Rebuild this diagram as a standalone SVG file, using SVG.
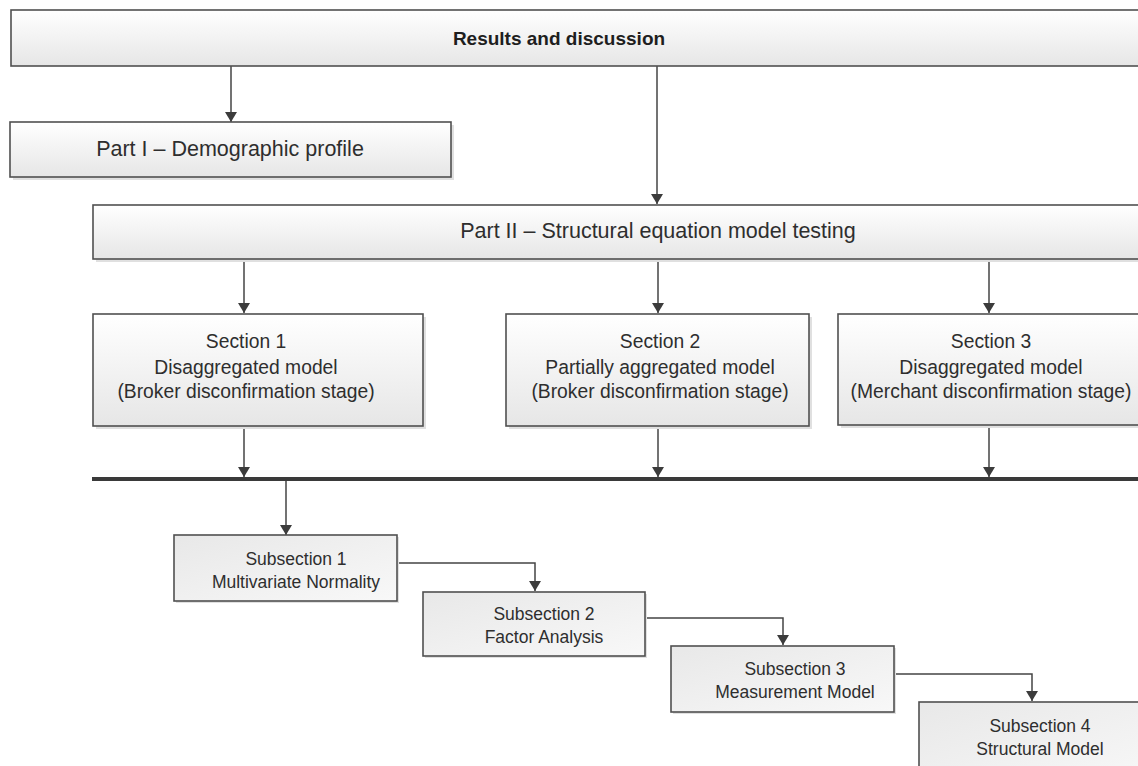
<svg xmlns="http://www.w3.org/2000/svg" width="1138" height="766" viewBox="0 0 1138 766">
  <defs>
    <linearGradient id="boxFill" x1="0" y1="0" x2="0" y2="1">
      <stop offset="0" stop-color="#ffffff"/>
      <stop offset="1" stop-color="#e6e6e6"/>
    </linearGradient>
    <linearGradient id="subFill" x1="0" y1="0" x2="1" y2="1">
      <stop offset="0" stop-color="#e8e8e8"/>
      <stop offset="1" stop-color="#f8f8f8"/>
    </linearGradient>
    <marker id="arrow" viewBox="0 0 10 12" refX="10" refY="6" markerWidth="10" markerHeight="12" markerUnits="userSpaceOnUse" orient="auto">
      <path d="M0,0 L10,6 L0,12 Z" fill="#3c3c3c"/>
    </marker>
  </defs>
  <style>
    .box { fill: url(#boxFill); stroke: #505050; stroke-width: 1.6; }
    .sub { fill: url(#subFill); stroke: #505050; stroke-width: 1.6; }
    .shadow { fill: #e0e0e0; }
    .t { font-family: "Liberation Sans", Arial, sans-serif; fill: #2e2e2e; text-anchor: middle; }
    .part { font-size: 21.5px; }
    .sec { font-size: 19.3px; }
    .small { font-size: 17.5px; }
    .bold { font-weight: bold; font-size: 19px; fill: #1e1e1e; }
    .link { fill: none; stroke: #444; stroke-width: 1.5; marker-end: url(#arrow); }
    .bar { stroke: #3a3a3a; stroke-width: 4; }
  </style>
  <rect width="1138" height="766" fill="#ffffff"/>

  <g id="connectors">
    <path class="link" d="M231,66 V122"/>
    <path class="link" d="M657,66 V204"/>
    <path class="link" d="M244,259 V313"/>
    <path class="link" d="M658,259 V313"/>
    <path class="link" d="M989,259 V313"/>
    <path class="link" d="M244,426 V477"/>
    <path class="link" d="M658,426 V477"/>
    <path class="link" d="M989,426 V477"/>
    <line class="bar" x1="92" y1="479" x2="1138" y2="479"/>
    <path class="link" d="M286,481 V535"/>
    <path class="link" d="M397,563 H535 V591"/>
    <path class="link" d="M645,618 H783 V645"/>
    <path class="link" d="M894,674 H1032 V701"/>
  </g>

  <g id="results">
    <rect class="box" x="11" y="10" width="1140" height="56"/>
    <text class="t bold" x="559" y="45">Results and discussion</text>
  </g>

  <g id="part1">
    <rect class="shadow" x="13" y="125" width="441" height="55"/>
    <rect class="box" x="10" y="122" width="441" height="55"/>
    <text class="t part" x="230" y="156">Part I – Demographic profile</text>
  </g>

  <g id="part2">
    <rect class="shadow" x="96" y="208" width="1060" height="54"/>
    <rect class="box" x="93" y="205" width="1060" height="54"/>
    <text class="t part" x="658" y="238">Part II – Structural equation model testing</text>
  </g>

  <g id="section1">
    <rect class="shadow" x="96" y="317" width="330" height="112"/>
    <rect class="box" x="93" y="314" width="330" height="112"/>
    <text class="t sec" x="246" y="348">Section 1</text>
    <text class="t sec" x="246" y="374">Disaggregated model</text>
    <text class="t sec" x="246" y="398">(Broker disconfirmation stage)</text>
  </g>

  <g id="section2">
    <rect class="shadow" x="509" y="317" width="303" height="112"/>
    <rect class="box" x="506" y="314" width="303" height="112"/>
    <text class="t sec" x="660" y="348">Section 2</text>
    <text class="t sec" x="660" y="374">Partially aggregated model</text>
    <text class="t sec" x="660" y="398">(Broker disconfirmation stage)</text>
  </g>

  <g id="section3">
    <rect class="shadow" x="841" y="317" width="310" height="111"/>
    <rect class="box" x="838" y="314" width="310" height="111"/>
    <text class="t sec" x="991" y="348">Section 3</text>
    <text class="t sec" x="991" y="374">Disaggregated model</text>
    <text class="t sec" x="991" y="398">(Merchant disconfirmation stage)</text>
  </g>

  <g id="subsection1">
    <rect class="shadow" x="176" y="537" width="223" height="66"/>
    <rect class="sub" x="174" y="535" width="223" height="66"/>
    <text class="t small" x="296" y="565">Subsection 1</text>
    <text class="t small" x="296" y="588">Multivariate Normality</text>
  </g>

  <g id="subsection2">
    <rect class="shadow" x="425" y="594" width="222" height="64"/>
    <rect class="sub" x="423" y="592" width="222" height="64"/>
    <text class="t small" x="544" y="620">Subsection 2</text>
    <text class="t small" x="544" y="643">Factor Analysis</text>
  </g>

  <g id="subsection3">
    <rect class="shadow" x="673" y="648" width="223" height="66"/>
    <rect class="sub" x="671" y="646" width="223" height="66"/>
    <text class="t small" x="795" y="675">Subsection 3</text>
    <text class="t small" x="795" y="698">Measurement Model</text>
  </g>

  <g id="subsection4">
    <rect class="sub" x="919" y="702" width="240" height="80"/>
    <text class="t small" x="1040" y="732">Subsection 4</text>
    <text class="t small" x="1040" y="755">Structural Model</text>
  </g>
</svg>
